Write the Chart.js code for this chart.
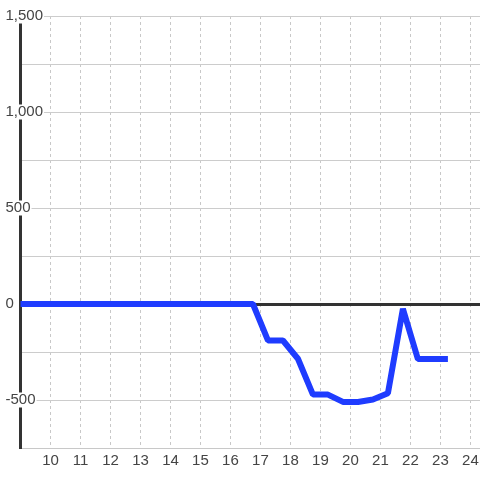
<!DOCTYPE html>
<html>
<head>
<meta charset="utf-8">
<script src="https://cdn.jsdelivr.net/npm/chart.js@4/dist/chart.umd.min.js"></script>
<style>
  html, body { margin: 0; padding: 0; background: #fff; }
  #wrap { width: 480px; height: 480px; }
</style>
</head>
<body>
<div id="wrap"><canvas id="c" width="480" height="480"></canvas></div>
<script>
// Hours (x) and values (y)
const hours = [8.75, 9.25, 9.75, 10.25, 10.75, 11.25, 11.75, 12.25, 12.75, 13.25,
               13.75, 14.25, 14.75, 15.25, 15.75, 16.25, 16.75, 17.25, 17.75, 18.25,
               18.75, 19.25, 19.75, 20.25, 20.75, 21.25, 21.75, 22.25, 22.75, 23.25];
const values = [0, 0, 0, 0, 0, 0, 0, 0, 0, 0,
                0, 0, 0, 0, 0, 0, 0, -190, -190, -285,
                -472, -472, -510, -510, -497, -465, -25, -287, -287, -287];
const xTickLabels = [10, 11, 12, 13, 14, 15, 16, 17, 18, 19, 20, 21, 22, 23, 24];
const yTickLabels = [-500, 0, 500, 1000, 1500];

const points = hours.map((h, i) => ({ x: h, y: values[i] }));
const FONT = { family: "'Liberation Sans', Arial, sans-serif", size: 15, lineHeight: 1.0 };

new Chart(document.getElementById('c'), {
  type: 'line',
  data: {
    datasets: [{
      data: points,
      borderColor: '#1f3cff',
      borderWidth: 6,
      borderJoinStyle: 'bevel',
      pointRadius: 0,
      fill: false,
      tension: 0
    }]
  },
  options: {
    responsive: false,
    animation: false,
    devicePixelRatio: 1,
    layout: { padding: { left: 5, top: 16, right: 0, bottom: 0 } },
    plugins: { legend: { display: false }, tooltip: { enabled: false } },
    scales: {
      x: {
        type: 'linear',
        min: 9,
        max: 24.32,
        afterFit: s => { s.height = 32; s.paddingLeft = 0; s.paddingRight = 0; },
        ticks: {
          stepSize: 1,
          includeBounds: false,
          autoSkip: false,
          maxRotation: 0,
          padding: 5,
          color: '#444',
          font: FONT,
          callback: v => xTickLabels.includes(v) ? String(v) : ''
        },
        grid: {
          drawTicks: false,
          color: '#c8c8c8',
          lineWidth: 1
        },
        border: { display: true, color: '#c8c8c8', width: 1, dash: [3, 3] }
      },
      y: {
        min: -750,
        max: 1500,
        afterFit: s => { s.width = 15.5; s.paddingTop = 0; s.paddingBottom = 0; },
        ticks: {
          stepSize: 250,
          autoSkip: false,
          mirror: true,
          padding: -15,
          color: '#444',
          font: FONT,
          showLabelBackdrop: ctx => yTickLabels.includes(ctx.tick.value),
          backdropColor: '#ffffff',
          backdropPadding: { x: 1, y: 0 },
          callback: v => yTickLabels.includes(v) ? v.toLocaleString('en-US') : ''
        },
        grid: {
          drawTicks: false,
          color: ctx => ctx.tick && ctx.tick.value === 0 ? '#333333' : '#cccccc',
          lineWidth: ctx => ctx.tick && ctx.tick.value === 0 ? 3 : 1
        },
        border: { display: true, color: '#333333', width: 3 }
      }
    }
  }
});
</script>
</body>
</html>
